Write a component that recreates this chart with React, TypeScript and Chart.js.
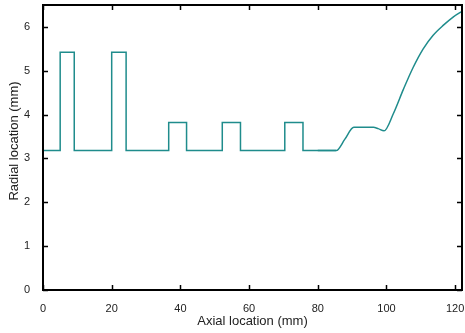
import React, { useEffect, useRef } from "react";
import { Chart, registerables } from "chart.js";
Chart.register(...registerables);

const stepX = [0, 5, 5, 9.1, 9.1, 20, 20, 24.2, 24.2, 36.6, 36.6, 41.8, 41.8, 52.2, 52.2, 57.5, 57.5, 70.4, 70.4, 75.7, 75.7, 85.3];
const stepY = [3.18, 3.18, 5.42, 5.42, 3.18, 3.18, 5.42, 5.42, 3.18, 3.18, 3.82, 3.82, 3.18, 3.18, 3.82, 3.82, 3.18, 3.18, 3.82, 3.82, 3.18, 3.18];
const curveX = [80, 85.4, 87.9, 90.5, 96.2, 97.6, 99.3, 102.0, 104.9, 107.8, 110.7, 113.6, 116.6, 119.5, 122.3];
const curveY = [3.18, 3.18, 3.44, 3.71, 3.71, 3.68, 3.63, 4.02, 4.57, 5.08, 5.5, 5.81, 6.04, 6.23, 6.37];
const xTicks = [0, 20, 40, 60, 80, 100, 120];
const yTicks = [0, 1, 2, 3, 4, 5, 6];
const xTitle = "Axial location (mm)";
const yTitle = "Radial location (mm)";

const LINE = "#1f8c8c";
const FONT = "'Liberation Sans', Arial, sans-serif";

const framePlugin = {
  id: "frame",
  afterDatasetsDraw(chart: any) {
    const { ctx, chartArea: a, scales } = chart;
    const L = 5;
    ctx.save();
    ctx.strokeStyle = "#000";
    ctx.lineWidth = 1.5;
    ctx.beginPath();
    xTicks.forEach((v) => {
      const px = Math.round(scales.x.getPixelForValue(v)) + 0.5;
      ctx.moveTo(px, a.bottom);
      ctx.lineTo(px, a.bottom - L);
      ctx.moveTo(px, a.top);
      ctx.lineTo(px, a.top + L);
    });
    yTicks.forEach((v) => {
      const py = Math.round(scales.y.getPixelForValue(v)) + 0.5;
      ctx.moveTo(a.left, py);
      ctx.lineTo(a.left + L, py);
      ctx.moveTo(a.right, py);
      ctx.lineTo(a.right - L, py);
    });
    ctx.stroke();
    ctx.lineWidth = 2;
    ctx.strokeRect(a.left, a.top, a.right - a.left, a.bottom - a.top);
    // y axis title
    ctx.translate(14, 141);
    ctx.rotate(-Math.PI / 2);
    ctx.fillStyle = "#222";
    ctx.font = `13px ${FONT}`;
    ctx.textAlign = "center";
    ctx.textBaseline = "middle";
    ctx.fillText(yTitle, 0, 0);
    ctx.restore();
  },
};

export default function App() {
  const ref = useRef<HTMLCanvasElement>(null);
  useEffect(() => {
    if (!ref.current) return;
    const chart = new Chart(ref.current, {
      type: "line",
      data: {
        datasets: [
          {
            data: stepX.map((x, i) => ({ x, y: stepY[i] })),
            borderColor: LINE,
            borderWidth: 1.5,
            pointRadius: 0,
            tension: 0,
            fill: false,
          },
          {
            data: curveX.map((x, i) => ({ x, y: curveY[i] })),
            borderColor: LINE,
            borderWidth: 1.5,
            pointRadius: 0,
            cubicInterpolationMode: "monotone",
            fill: false,
          },
        ],
      },
      options: {
        responsive: false,
        animation: false,
        plugins: { legend: { display: false }, tooltip: { enabled: false } },
        layout: { padding: { top: 5, right: 3, left: 0, bottom: 0 } },
        scales: {
          x: {
            type: "linear",
            min: 0,
            max: 122,
            grid: { display: false },
            border: { display: false },
            afterFit: (s: any) => { s.height = 43; s.paddingLeft = 0; s.paddingRight = 0; },
            ticks: {
              stepSize: 20,
              includeBounds: false,
              padding: 4,
              color: "#222",
              font: { family: FONT, size: 11 },
            },
            title: {
              display: true,
              text: xTitle,
              color: "#222",
              font: { family: FONT, size: 13 },
              padding: { top: 1 },
            },
          },
          y: {
            min: 0,
            max: 6.5,
            grid: { display: false },
            border: { display: false },
            afterFit: (s: any) => { s.width = 43; s.paddingTop = 0; s.paddingBottom = 0; },
            ticks: {
              stepSize: 1,
              includeBounds: false,
              padding: 5,
              color: "#222",
              font: { family: FONT, size: 11 },
            },
            title: { display: false },
          },
        },
      },
      plugins: [framePlugin],
    } as any);
    return () => chart.destroy();
  }, []);
  return (
    <div style={{ position: "fixed", left: 0, top: 0, width: 465, height: 333, background: "#fff" }}>
      <canvas ref={ref} width={465} height={333} />
    </div>
  );
}
